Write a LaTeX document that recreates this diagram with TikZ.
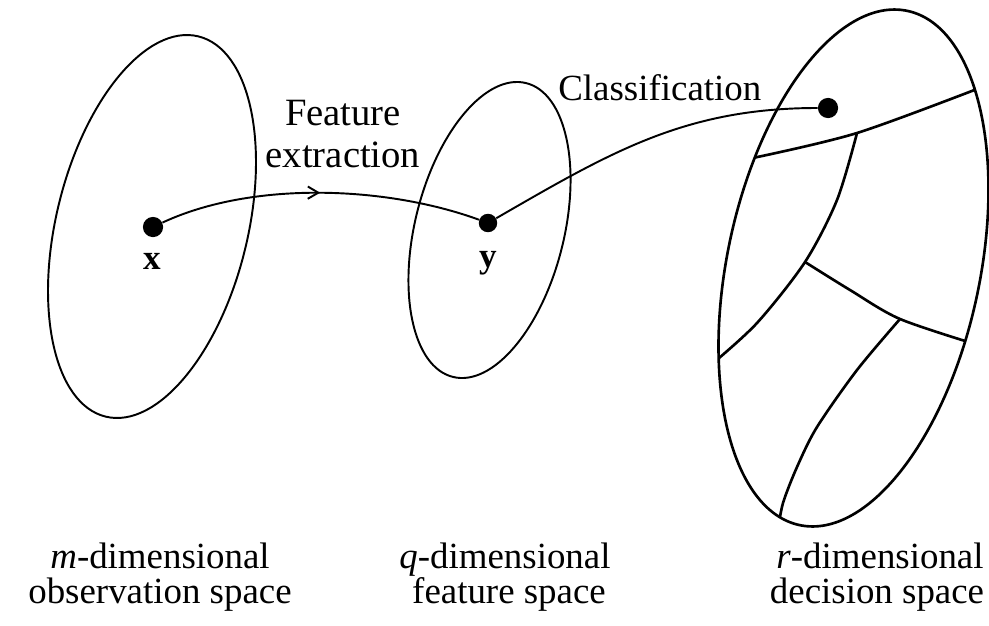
\documentclass[tikz,border=0pt]{standalone}
\usepackage{fontspec}
\setmainfont{Liberation Serif}
\usetikzlibrary{arrows.meta,decorations.markings}
\begin{document}
\begin{tikzpicture}[x=0.02cm,y=-0.02cm,
  region/.style={line width=1.1pt},
  part/.style={line width=1.5pt},
  conn/.style={line width=1.1pt},
  spot/.style={circle,fill=black,inner sep=0pt,minimum size=#1},
  spot/.default=11pt,
  caption/.style={font=\fontsize{21}{20}\selectfont,anchor=base,inner sep=0pt},
  proc/.style={font=\fontsize{22}{24}\selectfont,anchor=base,inner sep=0pt},
  vec/.style={font=\fontsize{20}{20}\selectfont\bfseries,anchor=base,inner sep=0pt}]
\useasboundingbox (0,0) rectangle (989,625);

% spaces
\draw[region, rotate around={-13.7:(152,226.5)}] (152,226.5) ellipse [x radius=95.8, y radius=195.7];
\draw[region, rotate around={-14:(489.5,230)}] (489.5,230) ellipse [x radius=74.5, y radius=151.4];
\draw[part, rotate around={-11.8:(853.5,268)}] (853.5,268) ellipse [x radius=126.5, y radius=262.7];

% decision regions
\begin{scope}
  \clip[rotate around={-11.8:(853.5,268)}] (853.5,268) ellipse [x radius=126.5, y radius=262.7];
  \draw[part] plot[smooth] coordinates {(748,159) (857,133) (990,84)};
  \draw[part] plot[smooth] coordinates {(857,133) (837,200) (805,262) (757,323) (712,364)};
  \draw[part] plot[smooth] coordinates {(805,262) (850,290) (900,319) (978,345)};
  \draw[part] plot[smooth] coordinates {(900,319) (857,370) (817,427) (797,467) (783,503) (778,530)};
\end{scope}

% points
\node[spot=11.5pt] (x) at (153,227) {};
\node[spot=10.5pt] (y) at (488,223) {};
\node[spot=11.5pt] (z) at (828,108) {};

% mappings
\draw[conn, postaction={decorate},
  decoration={markings, mark=at position 0.5 with {\arrow{Straight Barb[length=6pt,width=7pt]}}}]
  (x) to[out=25, in=160, looseness=0.8] (y);
\draw[conn] (y) to[out=30, in=180] (z);

% labels
\node[vec] (xl) at (152,269) {x};
\node[vec] (yl) at (488,267) {y};
\node[proc] (fe1) at (343,125) {Feature};
\node[proc] (fe2) at (343,167) {extraction};
\node[proc, font=\fontsize{21}{24}\selectfont, anchor=base west] (cl) at (558,100) {Classification};

\node[caption] (o1) at (160,568) {\textit{m}-dimensional};
\node[caption] (o2) at (160,603) {observation space};
\node[caption] (f1) at (505,568) {\textit{q}-dimensional};
\node[caption] (f2) at (509,603) {feature space};
\node[caption] (d1) at (880,568) {\textit{r}-dimensional};
\node[caption] (d2) at (877,603) {decision space};
\end{tikzpicture}
\end{document}
